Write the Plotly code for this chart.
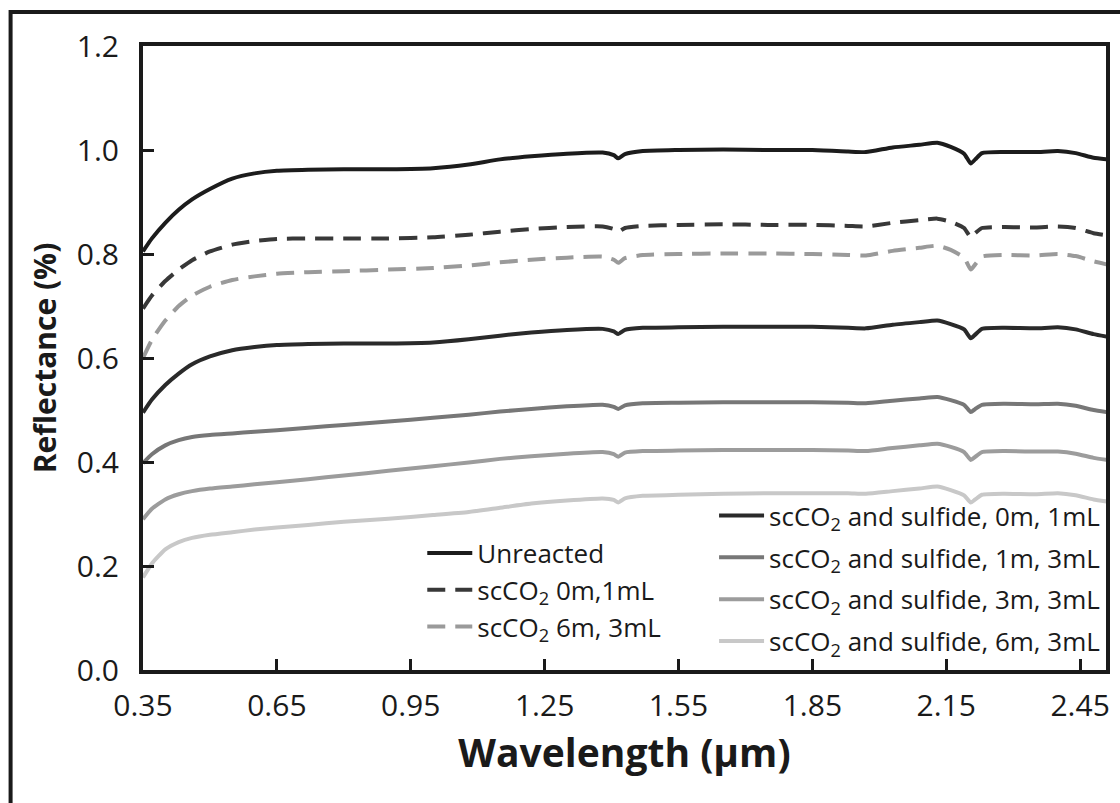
import plotly.graph_objects as go

# Wavelength samples (µm)
wavelength = [0.35, 0.37, 0.40, 0.43, 0.46, 0.50, 0.55, 0.60, 0.65, 0.72, 0.80, 0.90,
              1.00, 1.08, 1.15, 1.22, 1.30, 1.38, 1.405, 1.415, 1.43, 1.47, 1.55, 1.65,
              1.75, 1.85, 1.93, 1.97, 2.03, 2.09, 2.13, 2.16, 2.19, 2.205, 2.215, 2.23,
              2.28, 2.35, 2.40, 2.44, 2.48, 2.51]

unreacted = [0.805, 0.830, 0.860, 0.885, 0.905, 0.925, 0.945, 0.955, 0.960, 0.962, 0.963, 0.963,
             0.965, 0.972, 0.982, 0.988, 0.993, 0.995, 0.990, 0.984, 0.992, 0.998, 1.000, 1.001,
             1.000, 1.000, 0.997, 0.996, 1.005, 1.010, 1.014, 1.006, 0.993, 0.974, 0.982, 0.994,
             0.996, 0.996, 0.998, 0.994, 0.985, 0.982]

sc_0m_1ml = [0.695, 0.720, 0.748, 0.770, 0.788, 0.805, 0.818, 0.825, 0.829, 0.830, 0.830, 0.830,
             0.832, 0.837, 0.843, 0.848, 0.852, 0.853, 0.848, 0.843, 0.850, 0.854, 0.856, 0.857,
             0.856, 0.856, 0.854, 0.853, 0.860, 0.865, 0.868, 0.862, 0.850, 0.832, 0.840, 0.850,
             0.852, 0.851, 0.853, 0.850, 0.840, 0.836]

sc_6m_3ml = [0.600, 0.635, 0.672, 0.700, 0.720, 0.737, 0.750, 0.757, 0.762, 0.765, 0.767, 0.770,
             0.773, 0.778, 0.784, 0.789, 0.793, 0.795, 0.789, 0.783, 0.792, 0.798, 0.800, 0.801,
             0.801, 0.800, 0.798, 0.797, 0.806, 0.812, 0.816, 0.808, 0.793, 0.770, 0.780, 0.795,
             0.798, 0.797, 0.800, 0.796, 0.786, 0.780]

sulf_0m_1ml = [0.495, 0.520, 0.548, 0.570, 0.588, 0.603, 0.615, 0.621, 0.625, 0.627, 0.628, 0.628,
               0.630, 0.636, 0.643, 0.649, 0.654, 0.656, 0.651, 0.646, 0.654, 0.658, 0.659, 0.660,
               0.660, 0.660, 0.658, 0.657, 0.664, 0.669, 0.672, 0.665, 0.655, 0.638, 0.645, 0.656,
               0.658, 0.657, 0.659, 0.655, 0.646, 0.641]

sulf_1m_3ml = [0.398, 0.415, 0.432, 0.442, 0.448, 0.452, 0.455, 0.458, 0.461, 0.466, 0.471, 0.478,
               0.485, 0.491, 0.497, 0.502, 0.507, 0.510, 0.506, 0.502, 0.509, 0.513, 0.514, 0.515,
               0.515, 0.515, 0.514, 0.513, 0.518, 0.522, 0.525, 0.519, 0.510, 0.496, 0.502, 0.510,
               0.512, 0.511, 0.512, 0.508, 0.500, 0.496]

sulf_3m_3ml = [0.290, 0.310, 0.328, 0.338, 0.344, 0.349, 0.353, 0.357, 0.361, 0.367, 0.374, 0.383,
               0.392, 0.399, 0.406, 0.411, 0.416, 0.419, 0.415, 0.410, 0.418, 0.421, 0.422, 0.423,
               0.423, 0.423, 0.422, 0.421, 0.427, 0.432, 0.435, 0.429, 0.419, 0.404, 0.410, 0.419,
               0.421, 0.420, 0.420, 0.416, 0.408, 0.404]

sulf_6m_3ml = [0.178, 0.205, 0.232, 0.246, 0.254, 0.260, 0.265, 0.270, 0.274, 0.279, 0.285, 0.291,
               0.298, 0.304, 0.312, 0.320, 0.326, 0.330, 0.327, 0.322, 0.330, 0.335, 0.337, 0.339,
               0.340, 0.340, 0.340, 0.339, 0.344, 0.349, 0.353, 0.346, 0.336, 0.322, 0.328, 0.337,
               0.339, 0.338, 0.340, 0.336, 0.328, 0.324]

x_ticks = [0.35, 0.65, 0.95, 1.25, 1.55, 1.85, 2.15, 2.45]
y_ticks = [0.0, 0.2, 0.4, 0.6, 0.8, 1.0, 1.2]

FONT = "Open Sans"
INK = "#1a1a1a"

series = [
    ("Unreacted", unreacted, "#1c1c1c", "solid", "legend"),
    ("scCO<sub>2</sub> 0m,1mL", sc_0m_1ml, "#383838", "18px,10px", "legend"),
    ("scCO<sub>2</sub> 6m, 3mL", sc_6m_3ml, "#9a9a9a", "18px,10px", "legend"),
    ("scCO<sub>2</sub> and sulfide, 0m, 1mL", sulf_0m_1ml, "#2a2a2a", "solid", "legend2"),
    ("scCO<sub>2</sub> and sulfide, 1m, 3mL", sulf_1m_3ml, "#777777", "solid", "legend2"),
    ("scCO<sub>2</sub> and sulfide, 3m, 3mL", sulf_3m_3ml, "#9c9c9c", "solid", "legend2"),
    ("scCO<sub>2</sub> and sulfide, 6m, 3mL", sulf_6m_3ml, "#c8c8c8", "solid", "legend2"),
]

fig = go.Figure()
for i, (name, vals, color, dash, leg) in enumerate(series):
    fig.add_trace(go.Scatter(
        x=wavelength, y=vals, name=name, mode="lines",
        line=dict(color=color, width=4, dash=dash, shape="spline", smoothing=0.5),
        legend=leg, legendgroup=f"g{i}",
    ))

fig.update_layout(
    width=1120, height=803,
    margin=dict(l=143, r=10, t=46, b=133),
    paper_bgcolor="white", plot_bgcolor="white",
    font=dict(family=FONT, color=INK),
    legend=dict(
        x=0.29, y=0.225, xanchor="left", yanchor="top",
        bgcolor="rgba(0,0,0,0)", font=dict(size=26, family=FONT),
        itemwidth=45, tracegroupgap=0,
    ),
    legend2=dict(
        x=0.593, y=0.285, xanchor="left", yanchor="top",
        bgcolor="rgba(0,0,0,0)", font=dict(size=26, family=FONT),
        itemwidth=45, tracegroupgap=5,
    ),
    shapes=[dict(
        type="rect", xref="paper", yref="paper",
        x0=-0.1375, x1=1.06, y0=-0.24, y1=1.0545,
        line=dict(color=INK, width=4),
    )],
)

fig.update_xaxes(
    range=[0.35, 2.508], tickvals=x_ticks, tickformat=".2f",
    ticks="inside", ticklen=11, tickwidth=3, tickcolor=INK,
    showline=True, linewidth=4, linecolor=INK, mirror=True,
    showgrid=False, zeroline=False, automargin=True,
    tickfont=dict(size=30, family=FONT, color=INK),
    ticklabelstandoff=6,
    title=dict(text="<b>Wavelength (μm)</b>", font=dict(size=39, family=FONT, color=INK),
               standoff=4),
)
fig.update_yaxes(
    range=[0, 1.2], tickvals=y_ticks, tickformat=".1f",
    ticks="inside", ticklen=11, tickwidth=3, tickcolor=INK,
    showline=True, linewidth=4, linecolor=INK, mirror=True,
    showgrid=False, zeroline=False,
    tickfont=dict(size=30, family=FONT, color=INK),
    ticklabelstandoff=14,
    title=dict(text="<b>Reflectance (%)</b>", font=dict(size=30, family=FONT, color=INK),
               standoff=12),
)

fig.write_html("out.html")
